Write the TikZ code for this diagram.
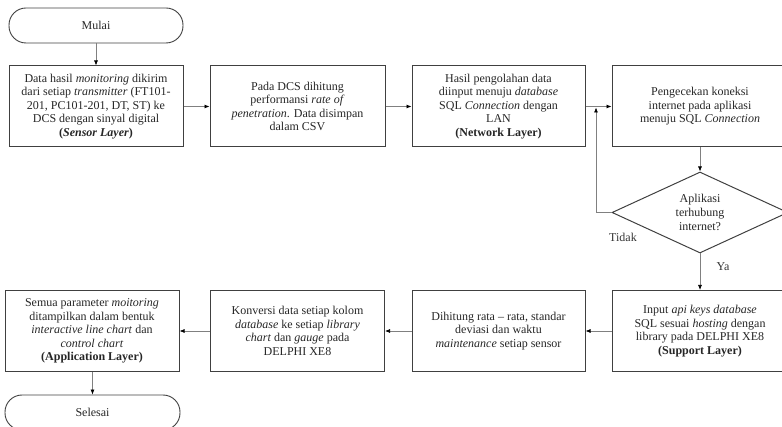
\documentclass[tikz,border=0pt]{standalone}
\usepackage{fontspec}
\setmainfont{Liberation Serif}
\usetikzlibrary{arrows.meta,shapes.geometric}
\begin{document}
\begin{tikzpicture}[x=1pt,y=-1pt,
  font=\fontsize{12}{13.6}\selectfont,
  box/.style={draw=black!75,line width=1pt,rectangle,align=center,minimum height=81pt,inner sep=1pt,text=black!85},
  term/.style={draw=black!75,line width=0.9pt,rectangle,rounded corners=17pt,minimum height=35pt,minimum width=174pt,text=black!85},
  dec/.style={draw=black!75,line width=1pt,diamond,aspect=2.17,minimum width=176pt,minimum height=81pt,inner sep=0pt,align=center,text=black!85},
  conn/.style={draw=black!50,line width=0.7pt,-{Latex[length=5pt,width=4pt,color=black]}},
  lbl/.style={text=black!80}]
\clip (0,0) rectangle (782,427);
\useasboundingbox (0,0) rectangle (782,427);
\node[term] (start) at (96,25.5) {Mulai};
\node[box,minimum width=174pt] (b1) at (96,106.5) {Data hasil \textit{monitoring} dikirim\\dari setiap \textit{transmitter} (FT101-\\201, PC101-201, DT, ST) ke\\DCS dengan sinyal digital\\\textbf{(\textit{Sensor Layer})}};
\node[box,minimum width=175pt] (b2) at (297.5,106.5) {Pada DCS dihitung\\performansi \textit{rate of}\\\textit{penetration}. Data disimpan\\dalam CSV};
\node[box,minimum width=173pt] (b3) at (498.5,106.5) {Hasil pengolahan data\\diinput menuju \textit{database}\\SQL \textit{Connection} dengan\\LAN\\\textbf{(Network Layer)}};
\node[box,minimum width=176pt] (b4) at (700,106.5) {Pengecekan koneksi\\internet pada aplikasi\\menuju SQL \textit{Connection}};
\node[dec] (d) at (700,212.5) {Aplikasi\\terhubung\\internet?};
\node[box,minimum width=176pt] (b5) at (700,331) {Input \textit{api keys database}\\SQL sesuai \textit{hosting} dengan\\library pada DELPHI XE8\\\textbf{(Support Layer)}};
\node[box,minimum width=173pt] (b6) at (498.5,331) {Dihitung rata -- rata, standar\\deviasi dan waktu\\\textit{maintenance} setiap sensor};
\node[box,minimum width=174pt] (b7) at (297.5,331) {Konversi data setiap kolom\\\textit{database} ke setiap \textit{library}\\\textit{chart} dan \textit{gauge} pada\\DELPHI XE8};
\node[box,minimum width=174pt] (b8) at (92,331) {Semua parameter \textit{moitoring}\\ditampilkan dalam bentuk\\\textit{interactive line chart} dan\\\textit{control chart}\\\textbf{(Application Layer)}};
\node[term,minimum width=175pt] (end) at (92.5,412.5) {Selesai};
\coordinate (j) at (596,107.5);
\node[lbl] (tidak) at (623,237) {Tidak};
\node[lbl] (ya) at (723,267) {Ya};
\draw[conn] (start) -- (b1);
\draw[conn] (b1) -- (b2);
\draw[conn] (b2) -- (b3);
\draw[conn] (b3) -- (b4);
\draw[conn] (b4) -- (d);
\draw[conn] (d.west) -- (d.west -| j) -- (j);
\draw[conn] (d) -- (b5);
\draw[conn] (b5) -- (b6);
\draw[conn] (b6) -- (b7);
\draw[conn] (b7) -- (b8);
\draw[conn] (b8.south -| end) -- (end);
\end{tikzpicture}
\end{document}
